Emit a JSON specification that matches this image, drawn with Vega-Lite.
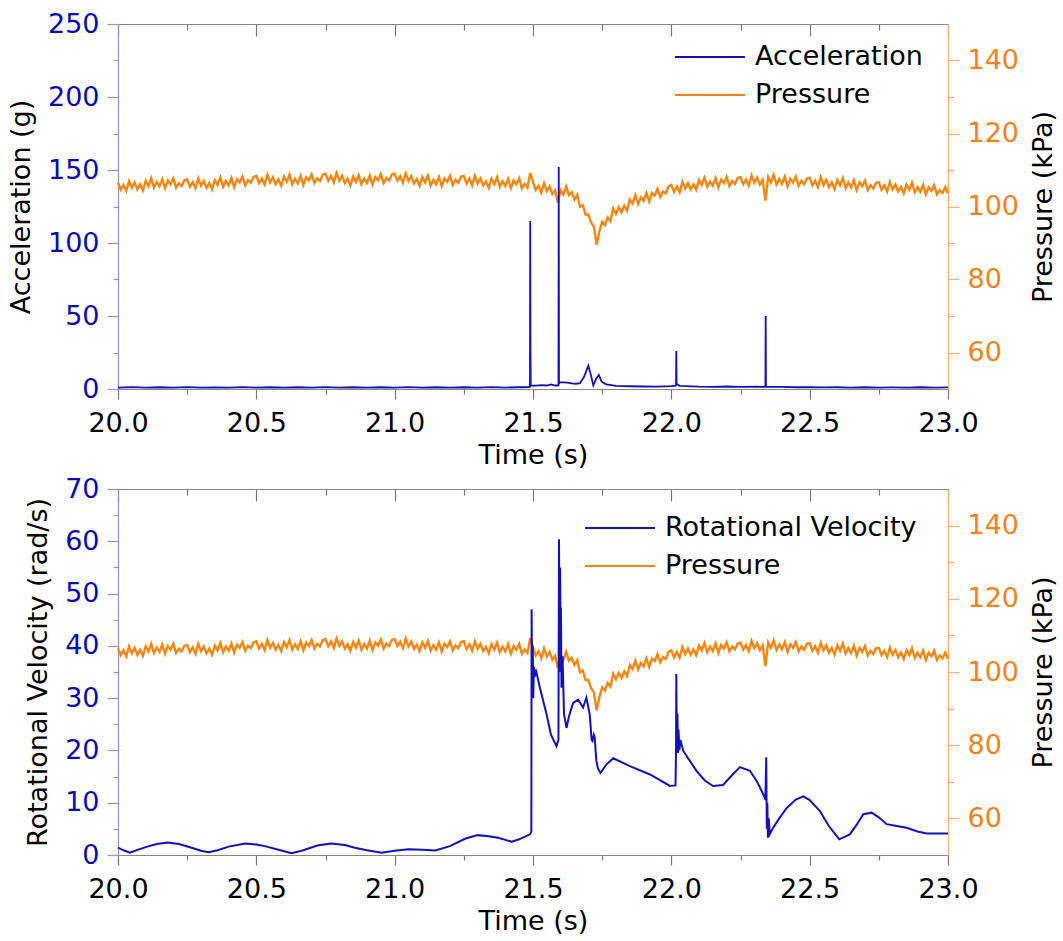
{
"$schema": "https://vega.github.io/schema/vega-lite/v6.json",
"padding": {"left": 7, "top": 10, "right": 0, "bottom": 0},
"spacing": 7,
"resolve": {"scale": {"color": "independent"}},
"config": {
 "view": {"stroke": null},
 "axis": {"labelFont": "DejaVu Sans", "labelFontSize": 27, "titleFont": "DejaVu Sans", "titleFontSize": 27, "titleFontWeight": "normal", "titleColor": "#000", "labelColor": "#000", "grid": false, "labelFlush": false, "labelOverlap": false, "tickWidth": 1.2, "domainWidth": 1.2}
},
"datasets": {
 "acc": [
  {"t":20.00,"a":1.0},{"t":20.05,"a":1.3},{"t":20.10,"a":0.9},{"t":20.15,"a":1.2},{"t":20.20,"a":1.0},{"t":20.25,"a":1.3},{"t":20.30,"a":0.9},{"t":20.35,"a":1.1},{"t":20.40,"a":1.0},{"t":20.45,"a":1.3},{"t":20.50,"a":1.0},{"t":20.55,"a":1.2},{"t":20.60,"a":0.9},{"t":20.65,"a":1.2},{"t":20.70,"a":1.0},{"t":20.75,"a":1.3},{"t":20.80,"a":1.0},{"t":20.85,"a":1.2},{"t":20.90,"a":0.9},{"t":20.95,"a":1.2},{"t":21.00,"a":1.0},{"t":21.05,"a":1.3},{"t":21.10,"a":1.0},{"t":21.15,"a":1.2},{"t":21.20,"a":0.9},{"t":21.25,"a":1.2},{"t":21.30,"a":1.0},{"t":21.35,"a":1.3},{"t":21.40,"a":1.0},{"t":21.45,"a":1.2},{"t":21.488,"a":1.3},{"t":21.489,"a":1.6},{"t":21.490,"a":115},{"t":21.491,"a":24},{"t":21.492,"a":2.5},{"t":21.51,"a":2.3},{"t":21.53,"a":2.6},{"t":21.55,"a":2.4},{"t":21.565,"a":3.2},{"t":21.58,"a":2.4},{"t":21.592,"a":2.5},{"t":21.593,"a":152},{"t":21.594,"a":3.5},{"t":21.596,"a":4.5},{"t":21.61,"a":4.6},{"t":21.625,"a":4.3},{"t":21.64,"a":3.8},{"t":21.655,"a":3.6},{"t":21.67,"a":4.0},{"t":21.685,"a":8.5},{"t":21.70,"a":16},{"t":21.71,"a":9},{"t":21.718,"a":2.5},{"t":21.728,"a":7},{"t":21.738,"a":9.6},{"t":21.748,"a":5},{"t":21.765,"a":3.2},{"t":21.80,"a":2.2},{"t":21.85,"a":1.9},{"t":21.90,"a":1.7},{"t":21.95,"a":1.6},{"t":22.00,"a":1.9},{"t":22.016,"a":2.3},{"t":22.017,"a":3},{"t":22.018,"a":26},{"t":22.019,"a":3.5},{"t":22.03,"a":2.2},{"t":22.10,"a":1.6},{"t":22.15,"a":1.5},{"t":22.20,"a":1.7},{"t":22.25,"a":1.5},{"t":22.30,"a":1.6},{"t":22.340,"a":1.5},{"t":22.341,"a":50},{"t":22.342,"a":1.6},{"t":22.40,"a":1.4},{"t":22.45,"a":1.2},{"t":22.50,"a":1.3},{"t":22.55,"a":1.1},{"t":22.60,"a":1.2},{"t":22.65,"a":1.0},{"t":22.70,"a":1.2},{"t":22.75,"a":1.0},{"t":22.80,"a":1.1},{"t":22.85,"a":1.0},{"t":22.90,"a":1.2},{"t":22.95,"a":1.0},{"t":23.00,"a":1.1}
 ],
 "rv": [
  {"t":20.00,"v":1.4},{"t":20.02,"v":0.9},{"t":20.043,"v":0.45},{"t":20.06,"v":0.8},{"t":20.10,"v":1.5},{"t":20.14,"v":2.1},{"t":20.18,"v":2.4},{"t":20.22,"v":2.1},{"t":20.266,"v":1.4},{"t":20.30,"v":0.8},{"t":20.327,"v":0.55},{"t":20.36,"v":0.9},{"t":20.40,"v":1.6},{"t":20.46,"v":2.2},{"t":20.50,"v":2.0},{"t":20.531,"v":1.7},{"t":20.58,"v":1.0},{"t":20.628,"v":0.35},{"t":20.67,"v":0.9},{"t":20.72,"v":1.8},{"t":20.77,"v":2.2},{"t":20.82,"v":1.9},{"t":20.856,"v":1.4},{"t":20.90,"v":0.9},{"t":20.953,"v":0.45},{"t":21.00,"v":0.8},{"t":21.05,"v":1.1},{"t":21.10,"v":1.0},{"t":21.146,"v":0.85},{"t":21.20,"v":1.7},{"t":21.254,"v":3.1},{"t":21.30,"v":3.8},{"t":21.34,"v":3.6},{"t":21.374,"v":3.3},{"t":21.40,"v":2.9},{"t":21.423,"v":2.55},{"t":21.45,"v":3.0},{"t":21.489,"v":3.95},{"t":21.494,"v":4.5},{"t":21.495,"v":47.0},{"t":21.497,"v":33},{"t":21.499,"v":40},{"t":21.501,"v":30},{"t":21.503,"v":36},{"t":21.506,"v":34},{"t":21.51,"v":35.5},{"t":21.525,"v":32.0},{"t":21.549,"v":26.9},{"t":21.565,"v":23},{"t":21.585,"v":20.8},{"t":21.592,"v":22},{"t":21.594,"v":60.4},{"t":21.596,"v":35},{"t":21.598,"v":55},{"t":21.600,"v":40},{"t":21.601,"v":47.3},{"t":21.603,"v":32},{"t":21.607,"v":38},{"t":21.612,"v":27},{"t":21.621,"v":24.3},{"t":21.63,"v":26.5},{"t":21.645,"v":29.1},{"t":21.663,"v":29.7},{"t":21.681,"v":28.2},{"t":21.693,"v":30.1},{"t":21.705,"v":26.9},{"t":21.712,"v":22},{"t":21.715,"v":21.8},{"t":21.72,"v":23},{"t":21.723,"v":22.5},{"t":21.729,"v":18.0},{"t":21.735,"v":16.5},{"t":21.744,"v":15.7},{"t":21.765,"v":17.3},{"t":21.79,"v":18.5},{"t":21.85,"v":17.0},{"t":21.923,"v":15.4},{"t":21.995,"v":13.2},{"t":22.015,"v":13.3},{"t":22.017,"v":20},{"t":22.018,"v":34.6},{"t":22.020,"v":20},{"t":22.022,"v":27},{"t":22.024,"v":19.5},{"t":22.026,"v":24},{"t":22.029,"v":20},{"t":22.033,"v":22},{"t":22.043,"v":19.9},{"t":22.091,"v":16.1},{"t":22.12,"v":14.3},{"t":22.151,"v":13.2},{"t":22.187,"v":13.4},{"t":22.22,"v":15.3},{"t":22.248,"v":16.8},{"t":22.284,"v":16.1},{"t":22.31,"v":14},{"t":22.338,"v":11.0},{"t":22.340,"v":10.5},{"t":22.343,"v":18.7},{"t":22.345,"v":5},{"t":22.347,"v":10},{"t":22.349,"v":3.3},{"t":22.352,"v":7},{"t":22.356,"v":4},{"t":22.368,"v":5.2},{"t":22.39,"v":7.0},{"t":22.417,"v":9.0},{"t":22.45,"v":10.6},{"t":22.477,"v":11.2},{"t":22.50,"v":10.5},{"t":22.537,"v":8.4},{"t":22.57,"v":5.5},{"t":22.607,"v":3.0},{"t":22.645,"v":3.95},{"t":22.67,"v":5.8},{"t":22.694,"v":7.8},{"t":22.724,"v":8.1},{"t":22.75,"v":7.2},{"t":22.778,"v":5.9},{"t":22.81,"v":5.6},{"t":22.85,"v":5.2},{"t":22.89,"v":4.5},{"t":22.923,"v":4.1},{"t":23.0,"v":4.1}
 ],
 "pres": [
  {"t":20.00,"p":106.5},{"t":20.01,"p":104.6},{"t":20.02,"p":105.9},{"t":20.03,"p":104.3},{"t":20.04,"p":107.0},{"t":20.05,"p":105.1},{"t":20.06,"p":106.6},{"t":20.07,"p":104.7},{"t":20.08,"p":106.1},{"t":20.09,"p":104.4},
  {"t":20.10,"p":107.0},{"t":20.11,"p":105.6},{"t":20.12,"p":107.7},{"t":20.13,"p":105.2},{"t":20.14,"p":106.7},{"t":20.15,"p":105.5},{"t":20.16,"p":107.5},{"t":20.17,"p":105.0},{"t":20.18,"p":107.1},{"t":20.19,"p":106.1},
  {"t":20.20,"p":107.7},{"t":20.21,"p":105.2},{"t":20.22,"p":106.4},{"t":20.23,"p":105.6},{"t":20.24,"p":107.2},{"t":20.25,"p":107.4},{"t":20.26,"p":105.4},{"t":20.27,"p":106.7},{"t":20.28,"p":105.0},{"t":20.29,"p":107.7},
  {"t":20.30,"p":105.7},{"t":20.31,"p":107.0},{"t":20.32,"p":105.1},{"t":20.33,"p":106.4},{"t":20.34,"p":104.7},{"t":20.35,"p":107.2},{"t":20.36,"p":105.9},{"t":20.37,"p":107.9},{"t":20.38,"p":105.4},{"t":20.39,"p":107.0},
  {"t":20.40,"p":105.8},{"t":20.41,"p":107.8},{"t":20.42,"p":105.3},{"t":20.43,"p":107.5},{"t":20.44,"p":106.6},{"t":20.45,"p":108.2},{"t":20.46,"p":105.8},{"t":20.47,"p":107.2},{"t":20.48,"p":106.5},{"t":20.49,"p":108.1},
  {"t":20.50,"p":108.4},{"t":20.51,"p":106.4},{"t":20.52,"p":107.7},{"t":20.53,"p":106.0},{"t":20.54,"p":108.7},{"t":20.55,"p":106.6},{"t":20.56,"p":108.0},{"t":20.57,"p":106.1},{"t":20.58,"p":107.4},{"t":20.59,"p":105.7},
  {"t":20.60,"p":108.2},{"t":20.61,"p":106.8},{"t":20.62,"p":108.7},{"t":20.63,"p":106.1},{"t":20.64,"p":107.6},{"t":20.65,"p":106.3},{"t":20.66,"p":108.4},{"t":20.67,"p":105.9},{"t":20.68,"p":108.0},{"t":20.69,"p":107.1},
  {"t":20.70,"p":108.8},{"t":20.71,"p":106.4},{"t":20.72,"p":107.7},{"t":20.73,"p":107.0},{"t":20.74,"p":108.7},{"t":20.75,"p":109.0},{"t":20.76,"p":107.0},{"t":20.77,"p":108.4},{"t":20.78,"p":106.6},{"t":20.79,"p":109.2},
  {"t":20.80,"p":107.1},{"t":20.81,"p":108.4},{"t":20.82,"p":106.4},{"t":20.83,"p":107.6},{"t":20.84,"p":105.8},{"t":20.85,"p":108.2},{"t":20.86,"p":106.7},{"t":20.87,"p":108.6},{"t":20.88,"p":106.1},{"t":20.89,"p":107.6},
  {"t":20.90,"p":106.4},{"t":20.91,"p":108.5},{"t":20.92,"p":106.0},{"t":20.93,"p":108.1},{"t":20.94,"p":107.2},{"t":20.95,"p":108.9},{"t":20.96,"p":106.4},{"t":20.97,"p":107.8},{"t":20.98,"p":107.1},{"t":20.99,"p":108.8},
  {"t":21.00,"p":109.0},{"t":21.01,"p":107.1},{"t":21.02,"p":108.3},{"t":21.03,"p":106.5},{"t":21.04,"p":109.1},{"t":21.05,"p":107.0},{"t":21.06,"p":108.3},{"t":21.07,"p":106.3},{"t":21.08,"p":107.5},{"t":21.09,"p":105.7},
  {"t":21.10,"p":108.1},{"t":21.11,"p":106.6},{"t":21.12,"p":108.5},{"t":21.13,"p":105.8},{"t":21.14,"p":107.3},{"t":21.15,"p":106.1},{"t":21.16,"p":108.1},{"t":21.17,"p":105.6},{"t":21.18,"p":107.7},{"t":21.19,"p":106.8},
  {"t":21.20,"p":108.4},{"t":21.21,"p":105.9},{"t":21.22,"p":107.3},{"t":21.23,"p":106.5},{"t":21.24,"p":108.2},{"t":21.25,"p":108.4},{"t":21.26,"p":106.3},{"t":21.27,"p":107.6},{"t":21.28,"p":105.8},{"t":21.29,"p":108.4},
  {"t":21.30,"p":106.3},{"t":21.31,"p":107.7},{"t":21.32,"p":105.7},{"t":21.33,"p":106.9},{"t":21.34,"p":105.1},{"t":21.35,"p":107.6},{"t":21.36,"p":106.1},{"t":21.37,"p":108.0},{"t":21.38,"p":105.4},{"t":21.39,"p":106.9},
  {"t":21.40,"p":105.6},{"t":21.41,"p":107.6},{"t":21.42,"p":105.0},{"t":21.43,"p":107.1},{"t":21.44,"p":106.1},{"t":21.45,"p":107.7},{"t":21.46,"p":105.0},{"t":21.47,"p":106.2},{"t":21.48,"p":105.2},{"t":21.49,"p":109.2},
  {"t":21.50,"p":106.7},{"t":21.51,"p":104.5},{"t":21.52,"p":105.7},{"t":21.53,"p":103.8},{"t":21.54,"p":106.4},{"t":21.55,"p":104.2},{"t":21.56,"p":105.5},{"t":21.57,"p":103.4},{"t":21.58,"p":104.4},{"t":21.59,"p":101.0},
  {"t":21.60,"p":104.5},{"t":21.61,"p":103.3},{"t":21.62,"p":105.5},{"t":21.63,"p":103.1},{"t":21.64,"p":103.9},{"t":21.65,"p":101.9},{"t":21.66,"p":103.2},{"t":21.67,"p":99.9},{"t":21.68,"p":100.4},{"t":21.69,"p":97.8},
  {"t":21.70,"p":97.8},{"t":21.71,"p":95.6},{"t":21.72,"p":94.5},{"t":21.73,"p":89.5},{"t":21.74,"p":93.2},{"t":21.75,"p":95.8},{"t":21.76,"p":94.9},{"t":21.77,"p":97.0},{"t":21.78,"p":96.0},{"t":21.79,"p":99.5},
  {"t":21.80,"p":98.0},{"t":21.81,"p":99.8},{"t":21.82,"p":98.4},{"t":21.83,"p":100.2},{"t":21.84,"p":98.9},{"t":21.85,"p":101.9},{"t":21.86,"p":100.8},{"t":21.87,"p":103.1},{"t":21.88,"p":100.7},{"t":21.89,"p":102.5},
  {"t":21.90,"p":101.5},{"t":21.91,"p":103.7},{"t":21.92,"p":101.4},{"t":21.93,"p":103.7},{"t":21.94,"p":103.0},{"t":21.95,"p":104.8},{"t":21.96,"p":102.6},{"t":21.97,"p":104.1},{"t":21.98,"p":103.6},{"t":21.99,"p":105.5},
  {"t":22.00,"p":105.9},{"t":22.01,"p":104.0},{"t":22.02,"p":105.5},{"t":22.03,"p":103.9},{"t":22.04,"p":106.8},{"t":22.05,"p":104.9},{"t":22.06,"p":106.4},{"t":22.07,"p":104.7},{"t":22.08,"p":106.1},{"t":22.09,"p":104.6},
  {"t":22.10,"p":107.2},{"t":22.11,"p":105.9},{"t":22.12,"p":107.9},{"t":22.13,"p":105.4},{"t":22.14,"p":106.9},{"t":22.15,"p":105.7},{"t":22.16,"p":107.8},{"t":22.17,"p":105.2},{"t":22.18,"p":107.4},{"t":22.19,"p":106.4},
  {"t":22.20,"p":108.1},{"t":22.21,"p":105.6},{"t":22.22,"p":107.0},{"t":22.23,"p":106.2},{"t":22.24,"p":107.8},{"t":22.25,"p":108.0},{"t":22.26,"p":106.1},{"t":22.27,"p":107.4},{"t":22.28,"p":105.7},{"t":22.29,"p":108.5},
  {"t":22.30,"p":106.5},{"t":22.31,"p":107.9},{"t":22.32,"p":106.0},{"t":22.33,"p":107.3},{"t":22.34,"p":101.6},{"t":22.35,"p":108.1},{"t":22.36,"p":106.6},{"t":22.37,"p":108.6},{"t":22.38,"p":106.0},{"t":22.39,"p":107.5},
  {"t":22.40,"p":106.2},{"t":22.41,"p":108.2},{"t":22.42,"p":105.5},{"t":22.43,"p":107.6},{"t":22.44,"p":106.6},{"t":22.45,"p":108.2},{"t":22.46,"p":105.7},{"t":22.47,"p":107.0},{"t":22.48,"p":106.1},{"t":22.49,"p":107.7},
  {"t":22.50,"p":107.9},{"t":22.51,"p":105.8},{"t":22.52,"p":107.1},{"t":22.53,"p":105.3},{"t":22.54,"p":108.0},{"t":22.55,"p":105.9},{"t":22.56,"p":107.3},{"t":22.57,"p":105.3},{"t":22.58,"p":106.6},{"t":22.59,"p":104.8},
  {"t":22.60,"p":107.3},{"t":22.61,"p":105.8},{"t":22.62,"p":107.8},{"t":22.63,"p":105.1},{"t":22.64,"p":106.6},{"t":22.65,"p":105.2},{"t":22.66,"p":107.2},{"t":22.67,"p":104.5},{"t":22.68,"p":106.6},{"t":22.69,"p":105.5},
  {"t":22.70,"p":107.1},{"t":22.71,"p":104.5},{"t":22.72,"p":105.8},{"t":22.73,"p":104.9},{"t":22.74,"p":106.5},{"t":22.75,"p":106.6},{"t":22.76,"p":104.6},{"t":22.77,"p":105.8},{"t":22.78,"p":104.1},{"t":22.79,"p":106.7},
  {"t":22.80,"p":104.7},{"t":22.81,"p":106.0},{"t":22.82,"p":104.1},{"t":22.83,"p":105.3},{"t":22.84,"p":103.6},{"t":22.85,"p":106.0},{"t":22.86,"p":104.6},{"t":22.87,"p":106.5},{"t":22.88,"p":103.9},{"t":22.89,"p":105.3},
  {"t":22.90,"p":104.0},{"t":22.91,"p":105.9},{"t":22.92,"p":103.3},{"t":22.93,"p":105.3},{"t":22.94,"p":104.3},{"t":22.95,"p":105.8},{"t":22.96,"p":103.3},{"t":22.97,"p":104.5},{"t":22.98,"p":103.7},{"t":22.99,"p":105.3},
  {"t":23.00,"p":103.6}
 ]
},
"vconcat": [
 {
  "width": 830, "height": 365,
  "resolve": {"scale": {"y": "independent"}, "axis": {"x": "independent"}},
  "layer": [
   {"data": {"name": "pres"}, "mark": {"type": "line", "strokeWidth": 2.4},
    "encoding": {
     "x": {"field": "t", "type": "quantitative", "scale": {"domain": [20, 23], "nice": false, "zero": false}, "axis": null},
     "y": {"field": "p", "type": "quantitative", "scale": {"domain": [50, 150], "nice": false, "zero": false},
           "axis": {"orient": "right", "values": [60, 80, 100, 120, 140], "tickSize": 11, "labelPadding": 8, "labelColor": "#f5811a", "tickColor": "#f5ad70", "domainColor": "#f5ad70", "title": "Pressure (kPa)", "titleAngle": 270, "titleBaseline": "top", "titlePadding": 12}},
     "color": {"datum": "Pressure", "type": "nominal"}
    }},
   {"data": {"name": "acc"}, "mark": {"type": "line", "strokeWidth": 1.8},
    "encoding": {
     "x": {"field": "t", "type": "quantitative", "scale": {"domain": [20, 23], "nice": false, "zero": false},
           "axis": {"orient": "bottom", "values": [20, 20.5, 21, 21.5, 22, 22.5, 23], "format": ".1f", "tickSize": 10, "labelPadding": 11, "tickColor": "#777777", "domainColor": "#888888", "title": "Time (s)", "titlePadding": 6}},
     "y": {"field": "a", "type": "quantitative", "scale": {"domain": [0, 250], "nice": false, "zero": false},
           "axis": {"orient": "left", "values": [0, 50, 100, 150, 200, 250], "tickSize": 11, "labelPadding": 8, "labelColor": "#0a0ab4", "tickColor": "#9090e0", "domainColor": "#9090e0", "title": "Acceleration (g)", "titlePadding": 12}},
     "color": {"datum": "Acceleration", "type": "nominal",
               "scale": {"domain": ["Acceleration", "Pressure"], "range": ["#1212b8", "#f7850f"]},
               "legend": {"orient": "none", "legendX": 556, "legendY": 15, "title": null, "symbolType": "stroke", "symbolSize": 4900, "symbolStrokeWidth": 2, "clipHeight": 36, "rowPadding": 2, "labelFontSize": 27, "labelFont": "DejaVu Sans", "labelColor": "#000", "labelOffset": 9, "labelLimit": 400, "padding": 0}}
    }},
   {"data": {"name": "pres"}, "mark": {"type": "point", "opacity": 0, "clip": true},
    "encoding": {
     "x": {"field": "t", "type": "quantitative", "scale": {"domain": [20, 23], "nice": false, "zero": false},
           "axis": {"orient": "bottom", "values": [20.25, 20.75, 21.25, 21.75, 22.25, 22.75], "tickSize": 5, "labels": false, "domain": false, "title": null, "tickColor": "#777777"}},
     "y": {"field": "p", "type": "quantitative", "scale": {"domain": [0, 250], "nice": false, "zero": false},
           "axis": {"orient": "left", "values": [25, 75, 125, 175, 225], "tickSize": 5, "labels": false, "domain": false, "title": null, "tickColor": "#9090e0"}}
    }},
   {"data": {"name": "pres"}, "mark": {"type": "point", "opacity": 0, "clip": true},
    "encoding": {
     "x": {"field": "t", "type": "quantitative", "scale": {"domain": [20, 23], "nice": false, "zero": false},
           "axis": {"orient": "top", "values": [20, 20.5, 21, 21.5, 22, 22.5, 23], "tickSize": -12, "labels": false, "domain": true, "title": null, "tickColor": "#777777", "domainColor": "#888888"}},
     "y": {"field": "p", "type": "quantitative", "scale": {"domain": [50, 150], "nice": false, "zero": false},
           "axis": {"orient": "right", "values": [70, 90, 110, 130], "tickSize": 6, "labels": false, "domain": false, "title": null, "tickColor": "#f5ad70"}}
    }},
   {"data": {"name": "pres"}, "mark": {"type": "point", "opacity": 0, "clip": true},
    "encoding": {
     "x": {"field": "t", "type": "quantitative", "scale": {"domain": [20, 23], "nice": false, "zero": false},
           "axis": {"orient": "top", "values": [20.25, 20.75, 21.25, 21.75, 22.25, 22.75], "tickSize": -6, "labels": false, "domain": false, "title": null, "tickColor": "#777777"}},
     "y": {"field": "p", "type": "quantitative", "scale": {"domain": [50, 150], "nice": false, "zero": false}, "axis": null}
    }}
  ]
 },
 {
  "width": 830, "height": 366,
  "resolve": {"scale": {"y": "independent"}, "axis": {"x": "independent"}},
  "layer": [
   {"data": {"name": "pres"}, "mark": {"type": "line", "strokeWidth": 2.4},
    "encoding": {
     "x": {"field": "t", "type": "quantitative", "scale": {"domain": [20, 23], "nice": false, "zero": false}, "axis": null},
     "y": {"field": "p", "type": "quantitative", "scale": {"domain": [50, 150], "nice": false, "zero": false},
           "axis": {"orient": "right", "values": [60, 80, 100, 120, 140], "tickSize": 11, "labelPadding": 8, "labelColor": "#f5811a", "tickColor": "#f5ad70", "domainColor": "#f5ad70", "title": "Pressure (kPa)", "titleAngle": 270, "titleBaseline": "top", "titlePadding": 12}},
     "color": {"datum": "Pressure", "type": "nominal"}
    }},
   {"data": {"name": "rv"}, "mark": {"type": "line", "strokeWidth": 2},
    "encoding": {
     "x": {"field": "t", "type": "quantitative", "scale": {"domain": [20, 23], "nice": false, "zero": false},
           "axis": {"orient": "bottom", "values": [20, 20.5, 21, 21.5, 22, 22.5, 23], "format": ".1f", "tickSize": 10, "labelPadding": 11, "tickColor": "#777777", "domainColor": "#888888", "title": "Time (s)", "titlePadding": 6}},
     "y": {"field": "v", "type": "quantitative", "scale": {"domain": [0, 70], "nice": false, "zero": false},
           "axis": {"orient": "left", "values": [0, 10, 20, 30, 40, 50, 60, 70], "tickSize": 11, "labelPadding": 8, "labelColor": "#0a0ab4", "tickColor": "#9090e0", "domainColor": "#9090e0", "title": "Rotational Velocity (rad/s)", "titlePadding": 12}},
     "color": {"datum": "Rotational Velocity", "type": "nominal",
               "scale": {"domain": ["Rotational Velocity", "Pressure"], "range": ["#1212b8", "#f7850f"]},
               "legend": {"orient": "none", "legendX": 466, "legendY": 21, "title": null, "symbolType": "stroke", "symbolSize": 4900, "symbolStrokeWidth": 2, "clipHeight": 36, "rowPadding": 2, "labelFontSize": 27, "labelFont": "DejaVu Sans", "labelColor": "#000", "labelOffset": 9, "labelLimit": 400, "padding": 0}}
    }},
   {"data": {"name": "pres"}, "mark": {"type": "point", "opacity": 0, "clip": true},
    "encoding": {
     "x": {"field": "t", "type": "quantitative", "scale": {"domain": [20, 23], "nice": false, "zero": false},
           "axis": {"orient": "bottom", "values": [20.25, 20.75, 21.25, 21.75, 22.25, 22.75], "tickSize": 5, "labels": false, "domain": false, "title": null, "tickColor": "#777777"}},
     "y": {"field": "p", "type": "quantitative", "scale": {"domain": [0, 70], "nice": false, "zero": false},
           "axis": {"orient": "left", "values": [5, 15, 25, 35, 45, 55, 65], "tickSize": 5, "labels": false, "domain": false, "title": null, "tickColor": "#9090e0"}}
    }},
   {"data": {"name": "pres"}, "mark": {"type": "point", "opacity": 0, "clip": true},
    "encoding": {
     "x": {"field": "t", "type": "quantitative", "scale": {"domain": [20, 23], "nice": false, "zero": false},
           "axis": {"orient": "top", "values": [20, 20.5, 21, 21.5, 22, 22.5, 23], "tickSize": -12, "labels": false, "domain": true, "title": null, "tickColor": "#777777", "domainColor": "#888888"}},
     "y": {"field": "p", "type": "quantitative", "scale": {"domain": [50, 150], "nice": false, "zero": false},
           "axis": {"orient": "right", "values": [70, 90, 110, 130], "tickSize": 6, "labels": false, "domain": false, "title": null, "tickColor": "#f5ad70"}}
    }},
   {"data": {"name": "pres"}, "mark": {"type": "point", "opacity": 0, "clip": true},
    "encoding": {
     "x": {"field": "t", "type": "quantitative", "scale": {"domain": [20, 23], "nice": false, "zero": false},
           "axis": {"orient": "top", "values": [20.25, 20.75, 21.25, 21.75, 22.25, 22.75], "tickSize": -6, "labels": false, "domain": false, "title": null, "tickColor": "#777777"}},
     "y": {"field": "p", "type": "quantitative", "scale": {"domain": [50, 150], "nice": false, "zero": false}, "axis": null}
    }}
  ]
 }
]
}
